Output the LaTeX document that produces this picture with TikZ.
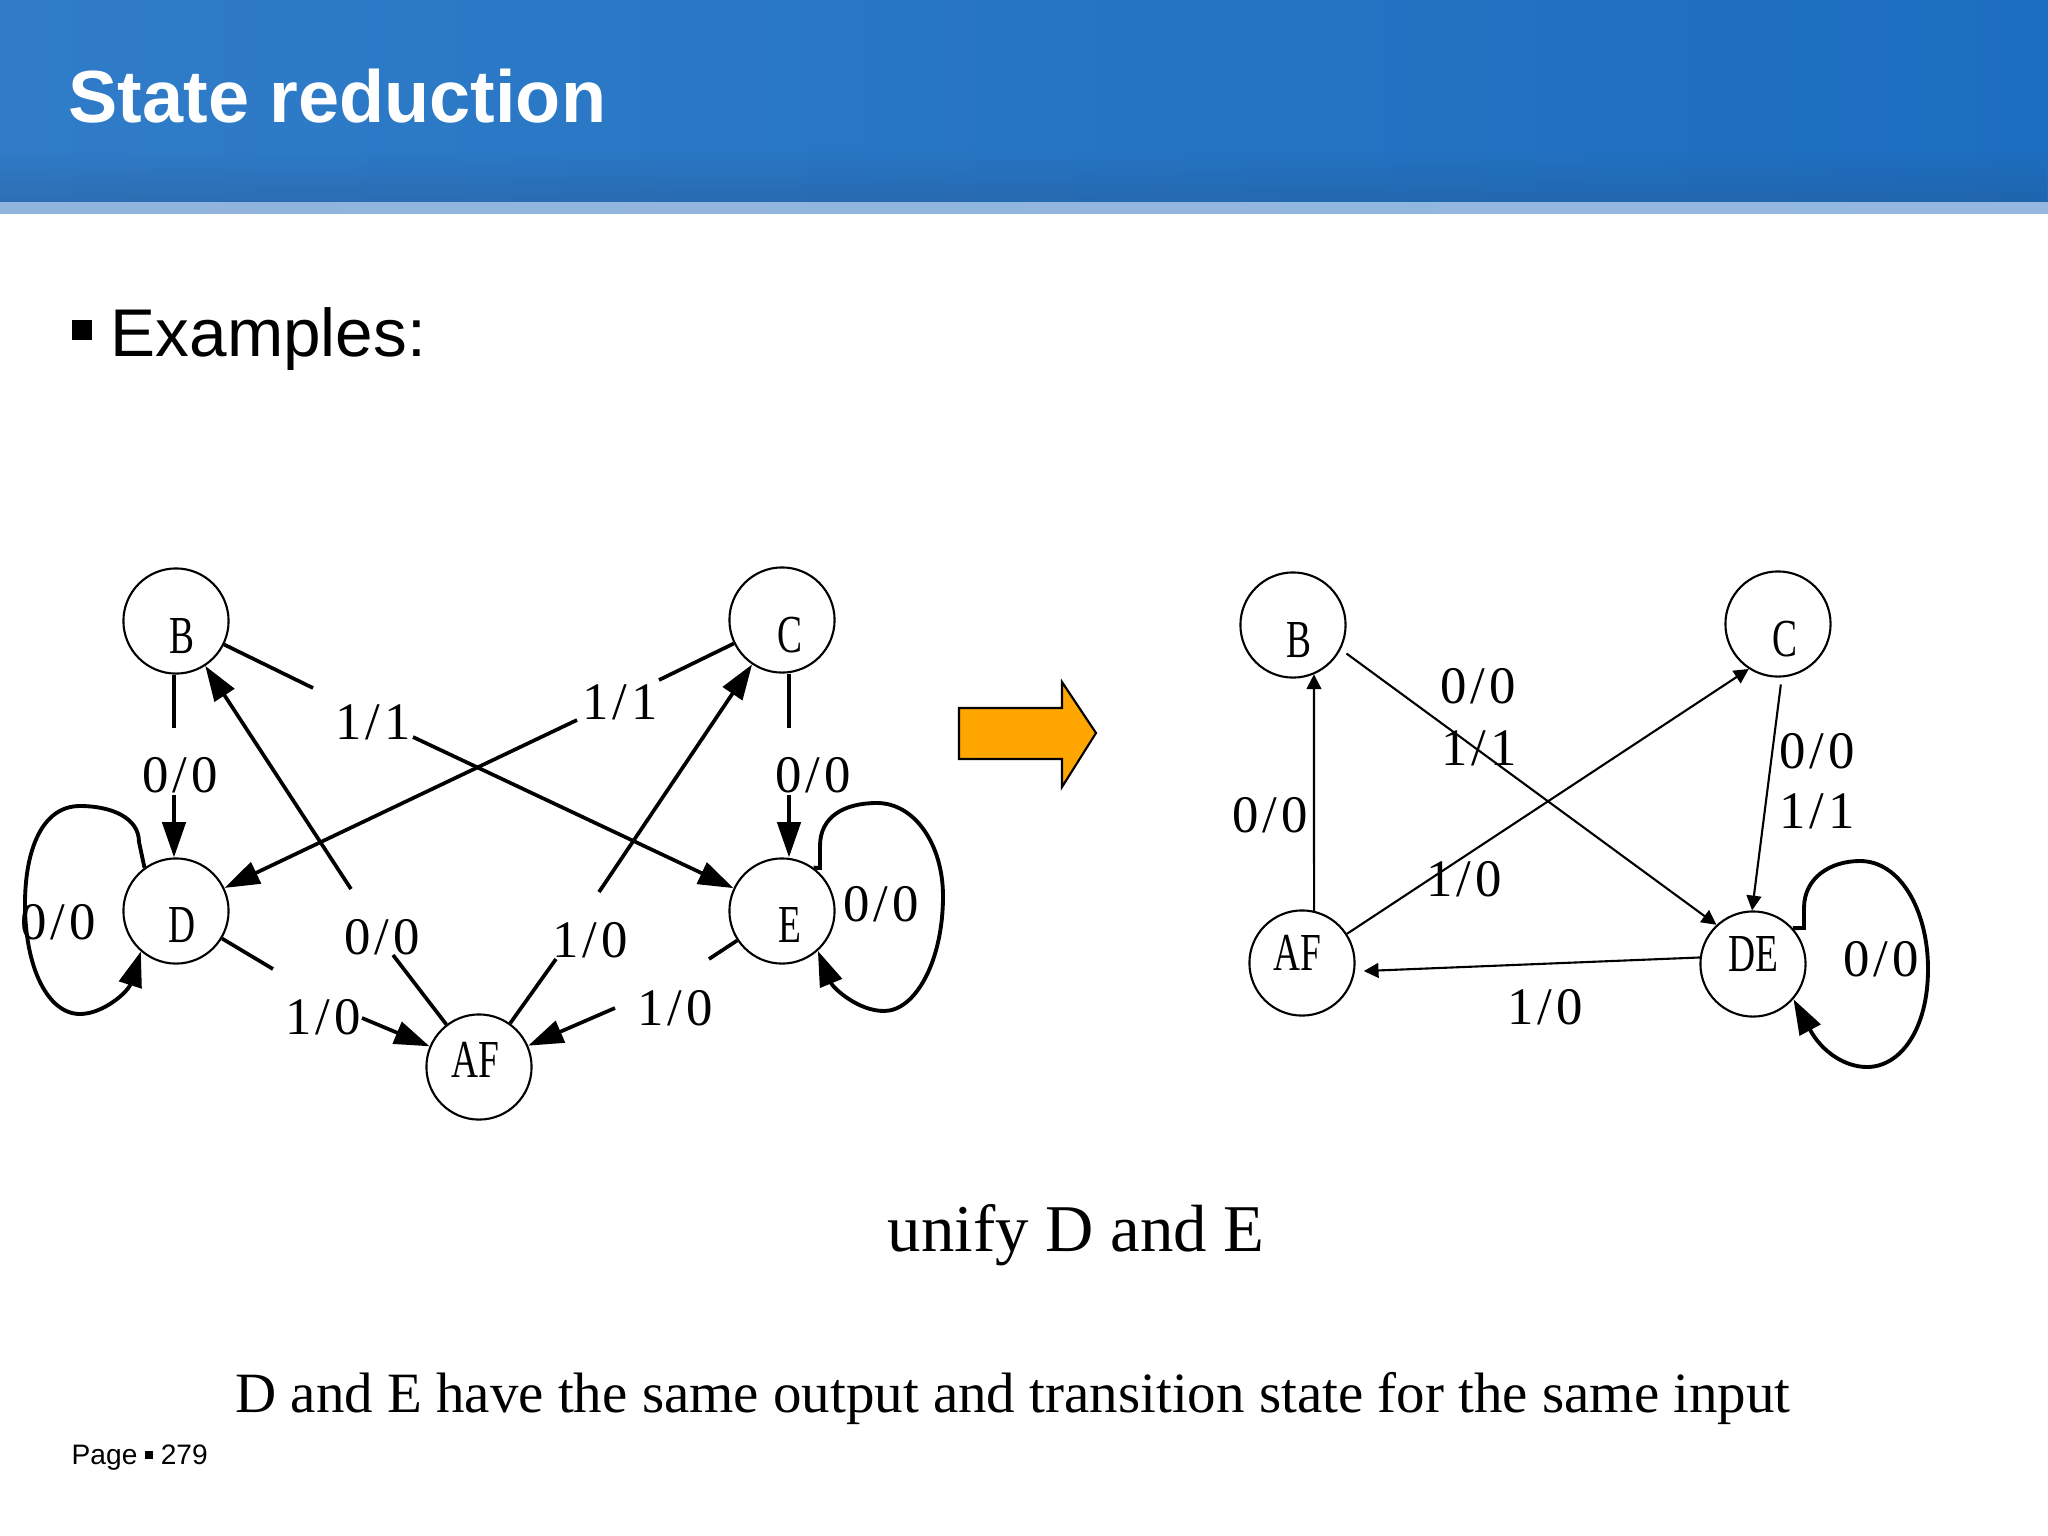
\documentclass[tikz,border=0pt]{standalone}
\usepackage{fontspec}
\usepackage{graphicx}
\setmainfont{Liberation Serif}
\newfontfamily\arialf{Liberation Sans}
\usetikzlibrary{arrows.meta,fadings}
\definecolor{hdrL}{RGB}{48,124,200}
\definecolor{hdrM}{RGB}{70,142,208}
\definecolor{hdrR}{RGB}{28,110,192}
\definecolor{hdrD}{RGB}{40,80,130}
\definecolor{strL}{RGB}{143,180,221}
\definecolor{strM}{RGB}{180,207,236}
\definecolor{strR}{RGB}{148,184,224}
\definecolor{arrorange}{RGB}{255,166,0}
\tikzfading[name=fadeup, top color=transparent!100, bottom color=transparent!0]
\newcommand{\nlt}[1]{\scalebox{0.7}[1]{#1}}
\newcommand{\io}[2]{#1\kern1.2pt/\kern1.2pt#2}
\begin{document}
\begin{tikzpicture}[x=0.01cm,y=-0.01cm,
  st/.style={circle, draw, line width=0.6pt, minimum size=29.9pt, inner sep=0pt},
  ltr/.style={font=\fontsize{15.2}{16}\selectfont, inner sep=0pt, text depth=0pt},
  tl/.style={font=\fontsize{15}{16}\selectfont, inner sep=0pt, text depth=0pt},
  edl/.style={line width=1.05pt},
  ed/.style={line width=1.05pt, -{Triangle[length=10pt,width=6.6pt]}},
  lp/.style={line width=1.1pt, -{Triangle[length=10pt,width=6.6pt]}},
  red/.style={line width=0.6pt, -{Triangle[length=4.2pt,width=4.2pt]}}
]
\useasboundingbox (0,0) rectangle (2048,1536);
\fill[white] (0,0) rectangle (2048,1536);
% header band
\shade[left color=hdrL, middle color=hdrM, right color=hdrR] (0,0) rectangle (2048,202);
\fill[hdrD, path fading=fadeup, opacity=0.3] (0,150) rectangle (2048,202);
\shade[left color=strL, middle color=strM, right color=strR] (0,202) rectangle (2048,213);
\node[anchor=base west, text=white, font=\arialf\bfseries\fontsize{21}{25}\selectfont, inner sep=0pt] (title) at (68,122) {State reduction};
% bullet
\fill[black] (72,320) rectangle (92,340);
\node[anchor=base west, font=\arialf\fontsize{19.2}{23}\selectfont, inner sep=0pt] (ex) at (110,356) {Examples:};

% ---------- left diagram ----------
\node[st, label={[ltr,xshift=1.7pt,yshift=-4.3pt]center:\nlt{B}}] (B) at (176,621) {};
\node[st, label={[ltr,xshift=2.2pt,yshift=-4.3pt]center:\nlt{C}}] (C) at (782,620) {};
\node[st, label={[ltr,xshift=1.7pt,yshift=-4pt]center:\nlt{D}}] (D) at (176,911) {};
\node[st, label={[ltr,xshift=2.2pt,yshift=-4pt]center:\nlt{E}}] (E) at (782,911) {};
\node[st, label={[ltr,xshift=-1.1pt,yshift=2pt]center:\nlt{AF}}] (AF) at (479,1067) {};

\coordinate (g1a) at (174,728); \coordinate (g1b) at (174,795);
\coordinate (g2a) at (313,688); \coordinate (g2b) at (413,737);
\coordinate (g3a) at (659,680); \coordinate (g3b) at (577,720);
\coordinate (g4a) at (393,955); \coordinate (g4b) at (351,889);
\coordinate (g5a) at (556,959); \coordinate (g5b) at (599,892);
\coordinate (g6a) at (273,969); \coordinate (g6b) at (362,1018);
\coordinate (g7a) at (709,959); \coordinate (g7b) at (615,1008);
\coordinate (g8a) at (789,728); \coordinate (g8b) at (789,795);

\draw[edl] (B.south -| g1a) -- (g1a);
\draw[ed] (g1b) -- (D.north -| g1b);
\draw[edl] (B) -- (g2a);
\draw[ed] (g2b) -- (E);
\draw[edl] (C) -- (g3a);
\draw[ed] (g3b) -- (D);
\draw[edl] (AF) -- (g4a);
\draw[ed] (g4b) -- (B);
\draw[edl] (AF) -- (g5a);
\draw[ed] (g5b) -- (C);
\draw[edl] (D) -- (g6a);
\draw[ed] (g6b) -- (AF);
\draw[edl] (E) -- (g7a);
\draw[ed] (g7b) -- (AF);
\draw[edl] (C.south -| g8a) -- (g8a);
\draw[ed] (g8b) -- (E.north -| g8b);

\node[tl] (lBD) at (180,775) {\io00};
\node[tl] (lBE) at (373,722) {\io11};
\node[tl] (lCD) at (620,702) {\io11};
\node[tl] (lAB) at (382,937) {\io00};
\node[tl] (lAC) at (590,940) {\io10};
\node[tl] (lDA) at (323,1017) {\io10};
\node[tl] (lEA) at (675,1008) {\io10};
\node[tl] (lCE) at (813,775) {\io00};
\node[tl] (lDD) at (58,922) {\io00};
\node[tl] (lEE) at (881,904) {\io00};

\draw[lp] (D.126) -- (139,842) .. controls (139,818) and (112,806) .. (80,806)
  .. controls (42,806) and (25,850) .. (25,904)
  .. controls (25,968) and (48,1014) .. (80,1014)
  .. controls (103,1014) and (128,992) .. (D.229);
\draw[lp] (E.54) -- (820,868) -- (820,846) .. controls (820,816) and (845,803) .. (877,803)
  .. controls (915,803) and (943,845) .. (943,896)
  .. controls (943,962) and (915,1011) .. (884,1011)
  .. controls (858,1011) and (833,988) .. (E.-48);

% orange arrow
\draw[fill=arrorange, line width=0.6pt, line join=miter] (959,708) -- (1062,708) -- (1062,682) -- (1096,733) -- (1062,787) -- (1062,759) -- (959,759) -- cycle;

% ---------- right diagram ----------
\node[st, label={[ltr,xshift=1.7pt,yshift=-4.3pt]center:\nlt{B}}] (RB) at (1293,625) {};
\node[st, label={[ltr,xshift=2pt,yshift=-4.3pt]center:\nlt{C}}] (RC) at (1778,624) {};
\node[st, label={[ltr,xshift=-1.4pt,yshift=2.8pt]center:\nlt{AF}}] (RAF) at (1302,963) {};
\node[st, label={[ltr,yshift=2.8pt]center:\nlt{DE}}] (RDE) at (1753,964) {};

\draw[red] (RAF.77) -- (RB.-67);
\draw[red, shorten <=2pt] (RB.-27) -- (RDE.133);
\draw[red] (RAF.33) -- (RC.237);
\draw[red, shorten <=2pt] (RC.-86) -- (RDE.91);
\draw[red, shorten >=2.5pt] (RDE.173) -- (RAF.-9);
\draw[lp] (RDE.42) -- (1804,928) -- (1804,908) .. controls (1804,878) and (1830,861) .. (1860,861)
  .. controls (1900,861) and (1928,910) .. (1928,969)
  .. controls (1928,1030) and (1900,1067) .. (1867,1067)
  .. controls (1845,1067) and (1822,1052) .. (RDE.-41);

\node[tl] (rAB) at (1270,815) {\io00};
\node[tl] (rBD1) at (1478,686) {\io00};
\node[tl] (rBD2) at (1479,748) {\io11};
\node[tl] (rAC) at (1464,879) {\io10};
\node[tl] (rCD1) at (1817,751) {\io00};
\node[tl] (rCD2) at (1817,811) {\io11};
\node[tl] (rDA) at (1545,1007) {\io10};
\node[tl] (rDD) at (1881,959) {\io00};

% texts
\node[anchor=base, font=\fontsize{19}{23}\selectfont, inner sep=0pt] (unify) at (1076,1251) {unify D and E};
\node[anchor=base, font=\fontsize{16.2}{20}\selectfont, inner sep=0pt] (reason) at (1013,1412) {D and E have the same output and transition state for the same input};
\node[anchor=base west, font=\arialf\fontsize{8}{10}\selectfont, inner sep=0pt] (pg) at (71,1464) {Page \raisebox{1.4pt}{\rule{2.2pt}{2.3pt}} 279};
\end{tikzpicture}
\end{document}
